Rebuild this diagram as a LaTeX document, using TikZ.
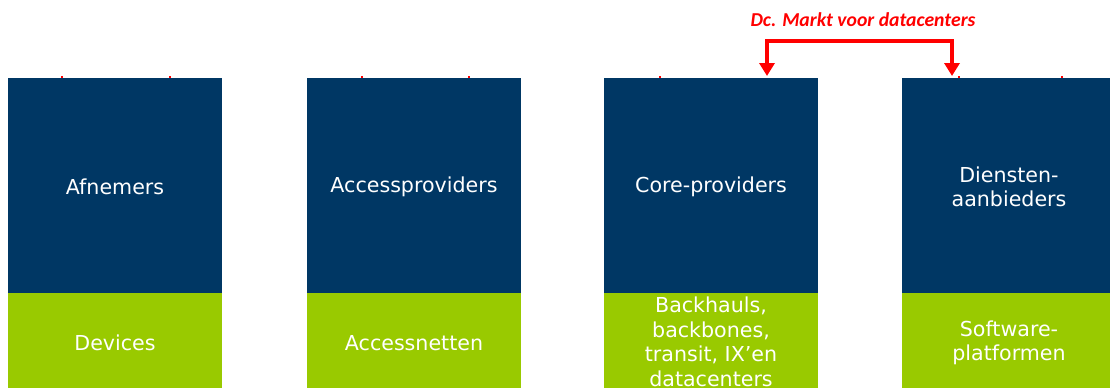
\documentclass[tikz,border=0pt]{standalone}
\usepackage{fontspec}
\setmainfont{DejaVu Sans}
\newfontfamily\calfont{Carlito}
\usetikzlibrary{arrows.meta,calc}
\definecolor{darkblue}{HTML}{003764}
\definecolor{limegreen}{HTML}{99CA00}
\definecolor{markred}{HTML}{FF0000}
\tikzset{
  topbox/.style={draw=none,fill=darkblue,minimum width=214pt,minimum height=215pt,anchor=north west,inner sep=0pt,outer sep=0pt},
  botbox/.style={draw=none,fill=limegreen,minimum width=214pt,minimum height=95pt,anchor=north west,inner sep=0pt,outer sep=0pt},
  lbl/.style={text=white,font=\fontsize{20.6pt}{24.5pt}\selectfont,align=center,inner sep=0pt},
  redline/.style={draw=markred,line width=4pt},
  tick/.style={draw=markred,line width=1.2pt}
}
\begin{document}
\begin{tikzpicture}[x=1pt,y=-1pt]
\clip (0,0) rectangle (1110,388);
\fill[white] (0,0) rectangle (1110,388);
% top boxes
\node[topbox] (t1) at (8,78) {};
\node[topbox] (t2) at (307,78) {};
\node[topbox] (t3) at (604,78) {};
\node[topbox] (t4) at (902,78) {};
% bottom boxes
\node[botbox] (g1) at (8,293) {};
\node[botbox] (g2) at (307,293) {};
\node[botbox] (g3) at (604,293) {};
\node[botbox] (g4) at (902,293) {};
% labels
\node[lbl] (l1) at ($(t1.center)+(0,1.5)$) {Afnemers};
\node[lbl] (l2) at ($(t2.center)+(0,1.5)$) {Accessproviders};
\node[lbl] (l3) at ($(t3.center)+(0,1.5)$) {Core-providers};
\node[lbl] (l4) at ($(t4.center)+(0,1.5)$) {Diensten-\\aanbieders};
\node[lbl] (m1) at (115,343) {Devices};
\node[lbl] (m2) at (414,343) {Accessnetten};
\node[lbl] (m3) at (711,342) {Backhauls,\\backbones,\\transit, IX’en\\datacenters};
\node[lbl] (m4) at (1009,343) {Software-\\platformen};
% red bracket
\node[text=markred,font=\calfont\bfseries\itshape\fontsize{19.7pt}{22pt}\selectfont,inner sep=0pt] (title) at (863,20) {Dc. Markt voor datacenters};
\coordinate (L) at (767,41);
\coordinate (R) at (952,41);
\draw[redline,{Triangle[width=15pt,length=13pt]}-{Triangle[width=15pt,length=13pt]},line join=miter]
  ($(t3.north -| L)+(0,-2)$) -- (L) -- (R) -- ($(t4.north -| R)+(0,-2)$);
% small red remnants
\foreach \x in {62,170,362,469,660,959,1062}{
  \draw[tick] (\x,76) -- (\x,78);
}
\end{tikzpicture}
\end{document}
